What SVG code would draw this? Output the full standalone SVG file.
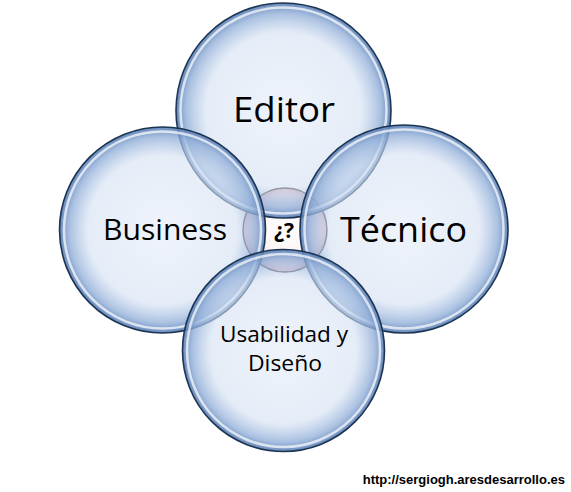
<svg xmlns="http://www.w3.org/2000/svg" width="571" height="492" viewBox="0 0 571 492">
<style>
.bubble{fill:url(#bub);stroke:#1d3553;stroke-width:1.6}
.shine{fill:none;stroke:#ffffff;stroke-opacity:0.7;stroke-width:2.5}
.lbl{font-family:"Open Sans","Noto Sans",sans-serif;fill:#000;text-anchor:middle}
</style>
<defs>
<radialGradient id="bub" cx="0.5" cy="0.5" r="0.5">
<stop offset="0" stop-color="#e2eaf7" stop-opacity="0.55"/>
<stop offset="0.72" stop-color="#d3e0f2" stop-opacity="0.6"/>
<stop offset="0.9" stop-color="#93b0d9" stop-opacity="0.78"/>
<stop offset="1" stop-color="#5a7fb5" stop-opacity="0.92"/>
</radialGradient>
<radialGradient id="pink" cx="0.5" cy="0.5" r="0.5">
<stop offset="0" stop-color="#ffffff"/>
<stop offset="0.55" stop-color="#fdf5f6"/>
<stop offset="0.85" stop-color="#f3d5d9"/>
<stop offset="1" stop-color="#d9a7ae"/>
</radialGradient>
</defs>
<rect width="571" height="492" fill="#ffffff"/>
<g id="centro">
<circle cx="285" cy="230" r="42" fill="url(#pink)" stroke="#3a2a30" stroke-width="1.4"/>
</g>
<g id="editor">
<circle class="bubble" cx="283.5" cy="110.5" r="107.5"/>
<circle class="shine" cx="283.5" cy="110.5" r="103"/>
</g>
<g id="business">
<circle class="bubble" cx="162.5" cy="230" r="103"/>
<circle class="shine" cx="162.5" cy="230" r="98.5"/>
</g>
<g id="tecnico">
<circle class="bubble" cx="404" cy="229" r="104"/>
<circle class="shine" cx="404" cy="229" r="99.5"/>
</g>
<g id="usabilidad">
<circle class="bubble" cx="283.5" cy="350.5" r="101"/>
<circle class="shine" cx="283.5" cy="350.5" r="96.5"/>
</g>
<g id="labels">
<text class="lbl" x="284" y="122" font-size="35" textLength="102" lengthAdjust="spacingAndGlyphs">Editor</text>
<text class="lbl" x="165" y="240" font-size="30" textLength="124" lengthAdjust="spacingAndGlyphs">Business</text>
<text class="lbl" x="403.5" y="242" font-size="35" textLength="127" lengthAdjust="spacingAndGlyphs">Técnico</text>
<text class="lbl" x="284" y="342" font-size="21" textLength="128" lengthAdjust="spacingAndGlyphs">Usabilidad y</text>
<text class="lbl" x="285" y="371" font-size="21" textLength="74" lengthAdjust="spacingAndGlyphs">Diseño</text>
<text class="lbl" x="284" y="238" font-size="21" font-weight="bold">¿?</text>
</g>
<text x="565" y="484" font-family="Liberation Sans, Arial, sans-serif" font-size="13" font-weight="bold" text-anchor="end" fill="#000">http://sergiogh.aresdesarrollo.es</text>
<g id="connectors"/>
</svg>
